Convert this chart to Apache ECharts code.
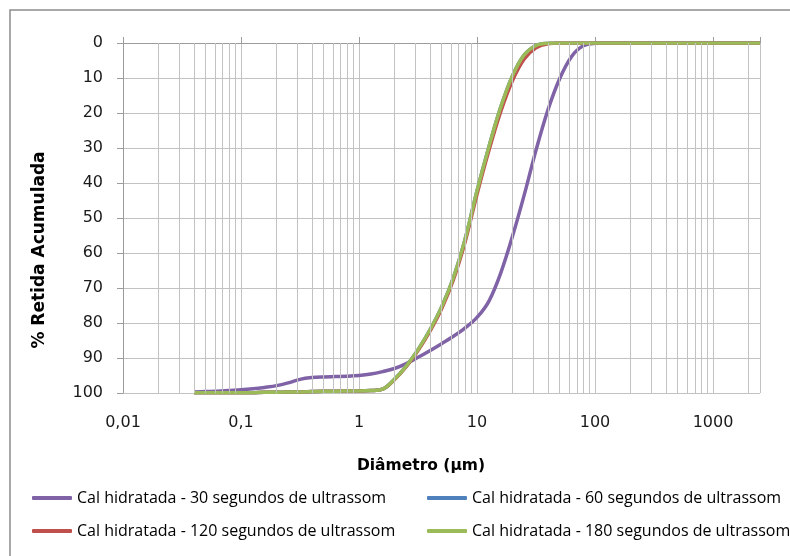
<!DOCTYPE html>
<html><head><meta charset="utf-8">
<script src="https://cdn.jsdelivr.net/npm/echarts@6/dist/echarts.min.js"></script>
<style>html,body{margin:0;padding:0;background:#fff}#c{width:790px;height:556px}</style>
</head><body><div id="c"></div>
<script>
// ---- data ----
const diameters = [0.04, 0.05, 0.063, 0.079, 0.1, 0.126, 0.158, 0.2, 0.251, 0.316, 0.398, 0.501, 0.631, 0.794,
  1, 1.259, 1.585, 1.995, 2.512, 3.162, 3.981, 5.012, 6.31, 7.943, 10, 12.59, 15.85, 19.95, 25.12, 31.62,
  39.81, 50.12, 63.1, 79.43, 100, 125.9, 2500];
const cal30  = [99.7, 99.6, 99.5, 99.3, 99.1, 98.8, 98.4, 97.9, 97.1, 96.1, 95.6, 95.4, 95.3, 95.2,
  95.0, 94.6, 93.9, 93.0, 91.6, 89.8, 87.9, 85.9, 83.8, 81.4, 78.4, 73.8, 65.8, 55.3, 43.4, 30.6,
  19.2, 10.2, 3.9, 0.8, 0.1, 0, 0];
const cal60  = [99.9, 99.9, 99.9, 99.9, 99.9, 99.9, 99.8, 99.8, 99.7, 99.7, 99.6, 99.5, 99.5, 99.4,
  99.4, 99.3, 98.9, 96.1, 92.3, 87.6, 82.0, 75.4, 67.0, 55.9, 42.2, 29.7, 18.4, 9.4, 3.4, 0.7,
  0.05, 0, 0, 0, 0, 0, 0];
const cal120 = [99.9, 99.9, 99.9, 99.9, 99.9, 99.9, 99.8, 99.8, 99.7, 99.7, 99.6, 99.5, 99.5, 99.4,
  99.4, 99.3, 98.9, 96.2, 92.5, 87.9, 82.4, 75.9, 67.6, 56.7, 43.2, 30.8, 19.7, 10.8, 4.6, 1.4,
  0.2, 0, 0, 0, 0, 0, 0];
const cal180 = [99.9, 99.9, 99.9, 99.9, 99.9, 99.9, 99.8, 99.8, 99.7, 99.7, 99.6, 99.5, 99.5, 99.4,
  99.4, 99.3, 98.9, 96.1, 92.3, 87.6, 82.0, 75.4, 67.0, 55.9, 42.2, 29.7, 18.4, 9.4, 3.4, 0.7,
  0.05, 0, 0, 0, 0, 0, 0];
const seriesNames = [
  'Cal hidratada - 30 segundos de ultrassom',
  'Cal hidratada - 60 segundos de ultrassom',
  'Cal hidratada - 120 segundos de ultrassom',
  'Cal hidratada - 180 segundos de ultrassom'
];
const seriesColors = ['#7F63A6', '#4F81BD', '#C0504D', '#9BBB59'];
const xTickValues = [0.01, 0.1, 1, 10, 100, 1000];
const xTickLabels = ['0,01', '0,1', '1', '10', '100', '1000'];
const xMin = 0.01, xMax = 2500;
const yMin = 0, yMax = 100, yStep = 10;
const xTitle = 'Diâmetro (µm)';
const yTitle = '% Retida Acumulada';

// ---- build ----
const allValues = [cal30, cal60, cal120, cal180];
const minorGrid = [];
xTickValues.forEach(function (d) {
  for (let k = 2; k <= 9; k++) { const v = d * k; if (v < xMax) minorGrid.push(+v.toPrecision(3)); }
});

const gridColor = '#c2c2c2';
const axisColor = '#9c9c9c';

const series = [{
  type: 'line', name: '_grid', data: [], silent: true, z: 1,
  markLine: {
    silent: true, symbol: ['none', 'none'], label: { show: false }, animation: false,
    lineStyle: { color: gridColor, width: 1, type: 'solid' },
    emphasis: { disabled: true },
    data: minorGrid.map(function (v) { return { xAxis: v }; })
  }
}];
allValues.forEach(function (vals, i) {
  series.push({
    type: 'line', name: seriesNames[i], z: 3,
    data: diameters.map(function (d, j) { return [d, vals[j]]; }),
    smooth: 0.35, symbol: 'none', showSymbol: false,
    lineStyle: { color: seriesColors[i], width: 3.5 },
    itemStyle: { color: seriesColors[i] },
    emphasis: { disabled: true }
  });
});

const legendText = { fontFamily: 'Open Sans', fontSize: 16, color: '#000', lineHeight: 18 };
const chart = echarts.init(document.getElementById('c'), null, { renderer: 'canvas' });
chart.setOption({
  animation: false,
  backgroundColor: '#fff',
  grid: { left: 123, right: 30, top: 43, bottom: 163 },
  xAxis: {
    type: 'log', logBase: 10, min: xMin, max: xMax,
    axisLine: { show: true, lineStyle: { color: axisColor, width: 1 } },
    axisTick: { show: true, inside: true, length: 6, lineStyle: { color: axisColor } },
    axisLabel: {
      margin: 22, fontFamily: 'DejaVu Sans', fontSize: 16, color: '#1a1a1a',
      formatter: function (v) {
        for (let i = 0; i < xTickValues.length; i++) {
          if (Math.abs(Math.log10(v) - Math.log10(xTickValues[i])) < 1e-6) return xTickLabels[i];
        }
        return '';
      }
    },
    splitLine: { show: true, lineStyle: { color: gridColor, width: 1 } }
  },
  yAxis: {
    type: 'value', inverse: true, min: yMin, max: yMax, interval: yStep,
    axisLine: { show: true, lineStyle: { color: axisColor, width: 1 } },
    axisTick: { show: true, inside: false, length: 6, lineStyle: { color: axisColor } },
    axisLabel: { margin: 20, fontFamily: 'DejaVu Sans', fontSize: 16, color: '#1a1a1a' },
    splitLine: { show: true, lineStyle: { color: gridColor, width: 1 } }
  },
  legend: [
    { data: [seriesNames[0], seriesNames[2]], orient: 'vertical', left: 27, top: 484,
      itemWidth: 40, itemHeight: 4, itemGap: 15, icon: 'roundRect', textStyle: legendText, selectedMode: false },
    { data: [seriesNames[1], seriesNames[3]], orient: 'vertical', left: 422, top: 484,
      itemWidth: 40, itemHeight: 4, itemGap: 15, icon: 'roundRect', textStyle: legendText, selectedMode: false }
  ],
  graphic: [
    { type: 'rect', shape: { x: 10, y: 10, width: 800, height: 600 }, silent: true, z: 0,
      style: { fill: null, stroke: '#8c8c8c', lineWidth: 1.5 } },
    { type: 'text', x: 421, y: 466, silent: true,
      style: { text: xTitle, fontFamily: 'DejaVu Sans', fontWeight: 'bold', fontSize: 15.5, fill: '#000', align: 'center', verticalAlign: 'middle' } },
    { type: 'text', x: 40, y: 250, rotation: Math.PI / 2, silent: true,
      style: { text: yTitle, fontFamily: 'DejaVu Sans', fontWeight: 'bold', fontSize: 17, fill: '#000', align: 'center', verticalAlign: 'middle' } }
  ],
  series: series
});
</script>
</body></html>
